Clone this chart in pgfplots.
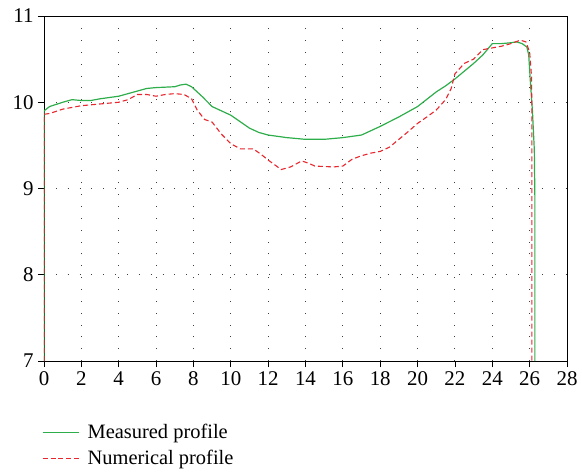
\documentclass[border=0pt]{standalone}
\usepackage{fontspec}
\setmainfont{Liberation Serif}
\usepackage{pgfplots}
\pgfplotsset{compat=1.18}
\definecolor{mgreen}{HTML}{2EAD4B}
\definecolor{nred}{HTML}{E8262E}
\begin{document}
\begin{tikzpicture}
\begin{axis}[
  scale only axis,
  width=523bp, height=345bp,
  xmin=0, xmax=28, ymin=7, ymax=11,
  xtick={0,2,...,28}, ytick={7,8,9,10,11},
  xtick pos=left, ytick pos=left,
  tick align=outside,
  major tick length=6bp,
  tick style={black, line width=0.8pt},
  axis line style={black, line width=0.7pt},
  grid=major,
  major grid style={black!75, line width=0.9pt, dash pattern=on 0.9pt off 11pt},
  /pgf/number format/assume math mode=true,
  tick label style={font=\fontsize{21}{24}\selectfont},
  xticklabel style={yshift=-1bp},
  yticklabel style={xshift=-1bp},
  legend style={at={(-0.01,-0.172)}, anchor=north west, draw=none, fill=none,
    font=\fontsize{20.5}{24}\selectfont, row sep=6pt},
  legend cell align=left,
  legend image code/.code={\draw[#1] (0cm,0cm) -- (1.3cm,0cm); \path (1.5cm,0cm);},
]
\addplot[mgreen, line width=1.2pt] coordinates {
(0,7) (0,9.9) (0.3,9.95) (1,10.0) (1.5,10.03) (2,10.02) (2.5,10.02) (3,10.04) (4,10.07) (4.5,10.1) (5,10.13) (5.5,10.16) (6,10.17) (7,10.18) (7.3,10.2) (7.6,10.21) (7.9,10.18) (8.5,10.06) (9,9.95) (10,9.85) (11,9.70) (11.5,9.65) (12,9.62) (13,9.59) (14,9.57) (15,9.57) (16,9.59) (17,9.62) (17.5,9.67) (18,9.72) (19,9.83) (20,9.95) (21,10.12) (21.5,10.19) (22,10.27) (22.5,10.36) (23,10.45) (23.5,10.55) (24,10.68) (24.5,10.68) (25,10.69) (25.3,10.70) (25.6,10.68) (25.85,10.64) (25.95,10.55) (26.05,10.2) (26.15,9.9) (26.25,9.45) (26.28,8.9) (26.28,7)
};
\addlegendentry{Measured profile}
\addplot[nred, line width=1.1pt, dash pattern=on 5pt off 3pt] coordinates {
(0,7) (0,9.86) (0.3,9.87) (1,9.92) (2,9.96) (3,9.98) (4,10.0) (4.5,10.03) (5,10.09) (5.5,10.09) (6,10.07) (6.5,10.09) (7,10.10) (7.5,10.09) (7.9,10.04) (8.2,9.91) (8.6,9.80) (9,9.77) (9.5,9.63) (10,9.52) (10.5,9.46) (11.2,9.46) (11.6,9.40) (12,9.33) (12.7,9.22) (13.2,9.25) (13.8,9.32) (14.2,9.29) (14.5,9.26) (15.5,9.25) (16,9.26) (16.5,9.34) (17,9.38) (17.5,9.41) (18,9.43) (18.5,9.48) (19,9.57) (19.5,9.66) (20,9.755) (20.5,9.83) (21,9.91) (21.5,10.03) (21.8,10.16) (22,10.33) (22.5,10.45) (23,10.50) (23.5,10.61) (24,10.63) (24.5,10.65) (25,10.68) (25.5,10.72) (25.8,10.70) (26.0,10.58) (26.1,10.3) (26.12,9.9) (26.12,7)
};
\addlegendentry{Numerical profile}
\end{axis}
\path[use as bounding box] (current axis.south west) ++(-44bp,-115bp) rectangle ++(582bp,476bp);
\end{tikzpicture}
\end{document}
